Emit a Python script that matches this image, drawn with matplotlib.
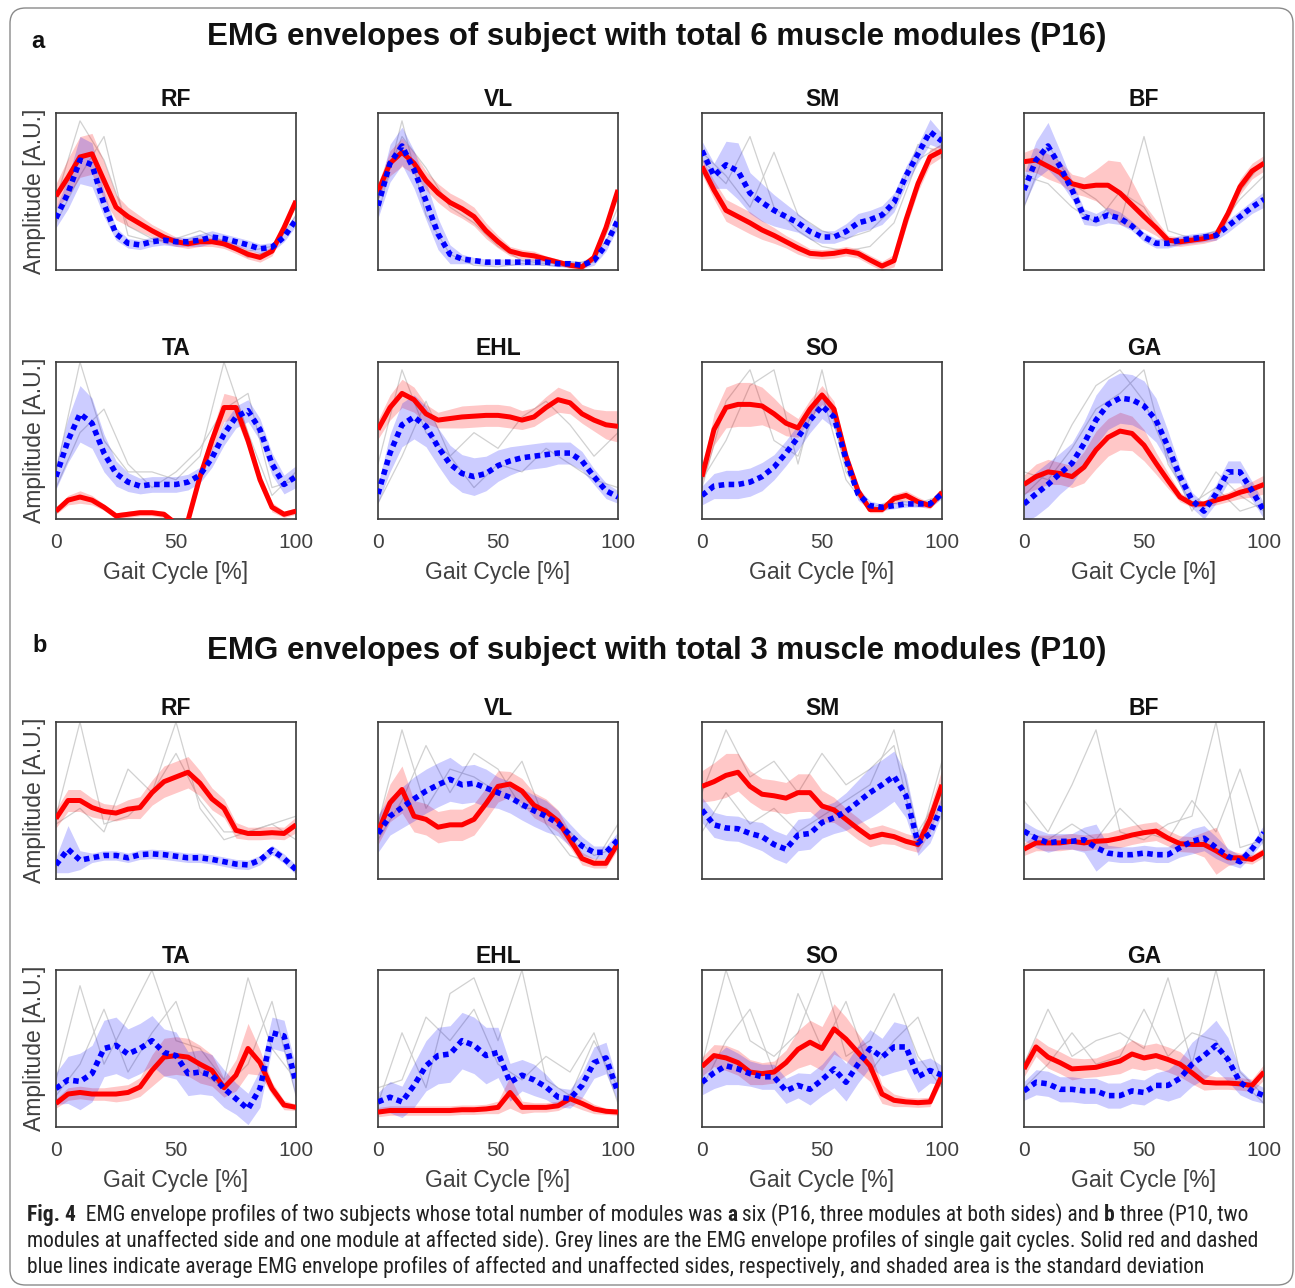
import matplotlib
matplotlib.use("Agg")
import matplotlib.pyplot as plt
from matplotlib import font_manager
from matplotlib.patches import FancyBboxPatch

# ---------------- DATA (normalised amplitude, 0 = box bottom, 1 = box top) ----------------
GAIT = [0, 5, 10, 15, 20, 25, 30, 35, 40, 45, 50, 55, 60, 65, 70, 75, 80, 85, 90, 95, 100]
GAIT_CYC = [0, 10, 20, 30, 40, 50, 60, 70, 80, 90, 100]
MUSCLES_ROW1 = ["RF", "VL", "SM", "BF"]
MUSCLES_ROW2 = ["TA", "EHL", "SO", "GA"]
SUBJECTS = ["P16", "P10"]
SUBJECT_TITLES = ["EMG envelopes of subject with total 6 muscle modules (P16)",
                  "EMG envelopes of subject with total 3 muscle modules (P10)"]
PANEL_LETTERS = ["a", "b"]
X_TICKS = [0, 50, 100]
XLABEL = "Gait Cycle [%]"
YLABEL = "Amplitude [A.U.]"

# ----- P16 -----
P16_RF_AFF = [0.47, 0.59, 0.72, 0.74, 0.57, 0.40, 0.34, 0.295, 0.25, 0.21, 0.18, 0.167, 0.18, 0.18, 0.167, 0.135, 0.10, 0.08, 0.12, 0.27, 0.44]
P16_RF_AFF_SD = [0.08, 0.12, 0.13, 0.13, 0.12, 0.08, 0.06, 0.05, 0.04, 0.04, 0.03, 0.03, 0.03, 0.03, 0.03, 0.03, 0.03, 0.03, 0.03, 0.03, 0.03]
P16_RF_UNAFF = [0.33, 0.49, 0.70, 0.67, 0.42, 0.23, 0.17, 0.16, 0.18, 0.19, 0.18, 0.18, 0.19, 0.21, 0.20, 0.18, 0.16, 0.135, 0.145, 0.21, 0.32]
P16_RF_UNAFF_SD = [0.06, 0.10, 0.15, 0.14, 0.08, 0.04, 0.03, 0.03, 0.03, 0.03, 0.03, 0.03, 0.04, 0.04, 0.03, 0.03, 0.03, 0.03, 0.03, 0.03, 0.04]
P16_RF_CYC1 = [0.45, 0.95, 0.70, 0.28, 0.20, 0.17, 0.22, 0.15, 0.12, 0.15, 0.40]
P16_RF_CYC2 = [0.30, 0.60, 0.85, 0.22, 0.18, 0.20, 0.25, 0.18, 0.08, 0.12, 0.35]

P16_VL_AFF = [0.50, 0.68, 0.75, 0.68, 0.57, 0.49, 0.43, 0.39, 0.34, 0.25, 0.18, 0.12, 0.10, 0.09, 0.07, 0.05, 0.03, 0.02, 0.08, 0.27, 0.51]
P16_VL_AFF_SD = [0.05, 0.08, 0.09, 0.07, 0.06, 0.06, 0.06, 0.06, 0.06, 0.05, 0.04, 0.03, 0.03, 0.03, 0.02, 0.02, 0.02, 0.02, 0.02, 0.02, 0.02]
P16_VL_UNAFF = [0.41, 0.68, 0.79, 0.64, 0.44, 0.23, 0.10, 0.07, 0.06, 0.05, 0.05, 0.05, 0.05, 0.05, 0.05, 0.04, 0.04, 0.03, 0.06, 0.16, 0.32]
P16_VL_UNAFF_SD = [0.08, 0.12, 0.12, 0.12, 0.12, 0.10, 0.06, 0.03, 0.02, 0.02, 0.02, 0.02, 0.02, 0.02, 0.02, 0.02, 0.02, 0.02, 0.03, 0.04, 0.05]
P16_VL_CYC1 = [0.45, 0.85, 0.65, 0.40, 0.30, 0.15, 0.06, 0.04, 0.05, 0.05, 0.40]
P16_VL_CYC2 = [0.35, 0.95, 0.35, 0.10, 0.03, 0.02, 0.04, 0.03, 0.02, 0.08, 0.30]

P16_SM_AFF = [0.66, 0.51, 0.38, 0.34, 0.30, 0.255, 0.22, 0.18, 0.14, 0.106, 0.10, 0.106, 0.12, 0.106, 0.064, 0.025, 0.06, 0.32, 0.55, 0.72, 0.76]
P16_SM_AFF_SD = [0.05, 0.06, 0.07, 0.07, 0.07, 0.06, 0.05, 0.04, 0.04, 0.03, 0.03, 0.03, 0.03, 0.03, 0.03, 0.03, 0.04, 0.05, 0.05, 0.05, 0.04]
P16_SM_UNAFF = [0.76, 0.60, 0.67, 0.63, 0.49, 0.43, 0.38, 0.34, 0.30, 0.245, 0.21, 0.21, 0.245, 0.30, 0.32, 0.35, 0.43, 0.60, 0.74, 0.88, 0.82]
P16_SM_UNAFF_SD = [0.06, 0.08, 0.15, 0.18, 0.13, 0.12, 0.10, 0.08, 0.06, 0.05, 0.04, 0.04, 0.05, 0.06, 0.06, 0.06, 0.06, 0.06, 0.06, 0.08, 0.05]
P16_SM_CYC1 = [0.70, 0.55, 0.85, 0.40, 0.25, 0.15, 0.12, 0.15, 0.30, 0.70, 0.80]
P16_SM_CYC2 = [0.75, 0.60, 0.40, 0.75, 0.35, 0.25, 0.20, 0.25, 0.40, 0.80, 0.75]

P16_BF_AFF = [0.69, 0.70, 0.66, 0.62, 0.55, 0.53, 0.54, 0.54, 0.49, 0.415, 0.34, 0.27, 0.19, 0.18, 0.19, 0.20, 0.22, 0.36, 0.53, 0.63, 0.68]
P16_BF_AFF_SD = [0.06, 0.08, 0.08, 0.07, 0.06, 0.06, 0.10, 0.16, 0.20, 0.15, 0.08, 0.05, 0.03, 0.03, 0.03, 0.03, 0.03, 0.04, 0.05, 0.05, 0.05]
P16_BF_UNAFF = [0.51, 0.70, 0.79, 0.66, 0.51, 0.34, 0.32, 0.35, 0.33, 0.28, 0.21, 0.17, 0.17, 0.19, 0.20, 0.21, 0.22, 0.28, 0.34, 0.40, 0.45]
P16_BF_UNAFF_SD = [0.10, 0.12, 0.15, 0.10, 0.06, 0.05, 0.04, 0.05, 0.04, 0.03, 0.03, 0.03, 0.03, 0.03, 0.03, 0.03, 0.03, 0.04, 0.04, 0.04, 0.05]
P16_BF_CYC1 = [0.40, 0.80, 0.55, 0.45, 0.30, 0.85, 0.25, 0.20, 0.25, 0.45, 0.60]
P16_BF_CYC2 = [0.60, 0.55, 0.40, 0.30, 0.50, 0.40, 0.15, 0.18, 0.22, 0.50, 0.70]

P16_TA_AFF = [0.05, 0.12, 0.14, 0.12, 0.075, 0.02, 0.03, 0.04, 0.04, 0.03, -0.03, -0.01, 0.27, 0.50, 0.71, 0.71, 0.50, 0.25, 0.075, 0.03, 0.05]
P16_TA_AFF_SD = [0.02, 0.03, 0.04, 0.03, 0.02, 0.02, 0.02, 0.02, 0.02, 0.02, 0.02, 0.02, 0.04, 0.06, 0.09, 0.07, 0.05, 0.04, 0.03, 0.02, 0.02]
P16_TA_UNAFF = [0.27, 0.50, 0.67, 0.61, 0.42, 0.29, 0.235, 0.21, 0.22, 0.22, 0.22, 0.235, 0.28, 0.39, 0.54, 0.65, 0.69, 0.57, 0.35, 0.22, 0.27]
P16_TA_UNAFF_SD = [0.08, 0.14, 0.18, 0.16, 0.12, 0.08, 0.06, 0.05, 0.05, 0.05, 0.05, 0.05, 0.05, 0.06, 0.07, 0.07, 0.07, 0.07, 0.07, 0.06, 0.07]
P16_TA_CYC1 = [0.30, 1.00, 0.50, 0.30, 0.30, 0.25, 0.40, 1.00, 0.55, 0.15, 0.30]
P16_TA_CYC2 = [0.20, 0.55, 0.70, 0.35, 0.20, 0.30, 0.45, 0.70, 0.80, 0.20, 0.25]

P16_EHL_AFF = [0.57, 0.71, 0.80, 0.76, 0.67, 0.63, 0.64, 0.65, 0.655, 0.66, 0.66, 0.65, 0.63, 0.65, 0.71, 0.76, 0.74, 0.67, 0.63, 0.60, 0.59]
P16_EHL_AFF_SD = [0.06, 0.08, 0.09, 0.08, 0.06, 0.05, 0.06, 0.07, 0.07, 0.07, 0.07, 0.07, 0.06, 0.06, 0.07, 0.08, 0.07, 0.06, 0.07, 0.09, 0.10]
P16_EHL_UNAFF = [0.16, 0.42, 0.60, 0.65, 0.59, 0.46, 0.35, 0.29, 0.27, 0.29, 0.34, 0.37, 0.39, 0.40, 0.41, 0.42, 0.42, 0.37, 0.27, 0.18, 0.14]
P16_EHL_UNAFF_SD = [0.06, 0.12, 0.14, 0.14, 0.13, 0.12, 0.12, 0.12, 0.12, 0.11, 0.10, 0.09, 0.08, 0.08, 0.08, 0.07, 0.07, 0.06, 0.05, 0.05, 0.04]
P16_EHL_CYC1 = [0.35, 0.95, 0.55, 0.40, 0.55, 0.45, 0.65, 0.75, 0.60, 0.40, 0.55]
P16_EHL_CYC2 = [0.10, 0.40, 0.75, 0.40, 0.20, 0.35, 0.30, 0.45, 0.35, 0.25, 0.20]

P16_SO_AFF = [0.27, 0.57, 0.71, 0.73, 0.73, 0.72, 0.67, 0.61, 0.58, 0.70, 0.79, 0.70, 0.40, 0.18, 0.06, 0.06, 0.13, 0.15, 0.11, 0.085, 0.17]
P16_SO_AFF_SD = [0.04, 0.10, 0.13, 0.14, 0.14, 0.12, 0.10, 0.08, 0.06, 0.06, 0.06, 0.05, 0.04, 0.03, 0.02, 0.02, 0.03, 0.03, 0.03, 0.02, 0.03]
P16_SO_UNAFF = [0.15, 0.21, 0.22, 0.22, 0.235, 0.27, 0.33, 0.42, 0.52, 0.63, 0.72, 0.65, 0.38, 0.16, 0.085, 0.075, 0.085, 0.096, 0.096, 0.096, 0.16]
P16_SO_UNAFF_SD = [0.06, 0.08, 0.09, 0.09, 0.09, 0.09, 0.08, 0.08, 0.08, 0.08, 0.08, 0.07, 0.06, 0.04, 0.03, 0.02, 0.02, 0.02, 0.02, 0.02, 0.03]
P16_SO_CYC1 = [0.20, 0.75, 0.95, 0.50, 0.40, 0.80, 0.25, 0.05, 0.10, 0.08, 0.15]
P16_SO_CYC2 = [0.25, 0.50, 0.85, 0.95, 0.35, 0.95, 0.30, 0.07, 0.12, 0.10, 0.15]

P16_GA_AFF = [0.22, 0.27, 0.30, 0.29, 0.27, 0.33, 0.44, 0.52, 0.56, 0.545, 0.47, 0.355, 0.245, 0.14, 0.096, 0.096, 0.12, 0.14, 0.17, 0.19, 0.22]
P16_GA_AFF_SD = [0.06, 0.08, 0.08, 0.07, 0.07, 0.10, 0.12, 0.12, 0.12, 0.11, 0.10, 0.07, 0.05, 0.03, 0.02, 0.02, 0.03, 0.03, 0.04, 0.05, 0.06]
P16_GA_UNAFF = [0.096, 0.16, 0.22, 0.29, 0.355, 0.48, 0.63, 0.73, 0.77, 0.76, 0.72, 0.63, 0.46, 0.27, 0.12, 0.05, 0.16, 0.30, 0.30, 0.18, 0.05]
P16_GA_UNAFF_SD = [0.12, 0.14, 0.14, 0.13, 0.13, 0.14, 0.16, 0.16, 0.16, 0.16, 0.16, 0.14, 0.10, 0.06, 0.05, 0.05, 0.06, 0.07, 0.07, 0.06, 0.05]
P16_GA_CYC1 = [0.15, 0.30, 0.60, 0.85, 0.95, 0.75, 0.40, 0.05, 0.30, 0.15, 0.05]
P16_GA_CYC2 = [0.30, 0.25, 0.45, 0.70, 0.80, 0.95, 0.35, 0.10, 0.20, 0.05, 0.10]

# ----- P10 -----
P10_RF_AFF = [0.385, 0.50, 0.50, 0.455, 0.43, 0.42, 0.445, 0.455, 0.55, 0.62, 0.65, 0.68, 0.61, 0.51, 0.45, 0.31, 0.29, 0.29, 0.295, 0.29, 0.345]
P10_RF_AFF_SD = [0.06, 0.07, 0.07, 0.06, 0.05, 0.05, 0.06, 0.07, 0.08, 0.10, 0.10, 0.10, 0.08, 0.07, 0.06, 0.05, 0.04, 0.04, 0.04, 0.04, 0.05]
P10_RF_UNAFF = [0.09, 0.19, 0.12, 0.135, 0.15, 0.15, 0.135, 0.155, 0.16, 0.155, 0.145, 0.135, 0.135, 0.125, 0.11, 0.095, 0.09, 0.12, 0.185, 0.13, 0.06]
P10_RF_UNAFF_SD = [0.05, 0.15, 0.06, 0.03, 0.03, 0.03, 0.03, 0.03, 0.03, 0.03, 0.03, 0.03, 0.03, 0.03, 0.03, 0.03, 0.03, 0.03, 0.03, 0.03, 0.03]
P10_RF_CYC1 = [0.40, 1.00, 0.35, 0.40, 0.55, 0.80, 0.50, 0.30, 0.30, 0.35, 0.40]
P10_RF_CYC2 = [0.35, 0.45, 0.30, 0.70, 0.55, 1.00, 0.45, 0.25, 0.30, 0.35, 0.25]

P10_VL_AFF = [0.30, 0.485, 0.57, 0.40, 0.38, 0.33, 0.345, 0.345, 0.38, 0.48, 0.59, 0.605, 0.56, 0.47, 0.43, 0.37, 0.25, 0.13, 0.10, 0.10, 0.23]
P10_VL_AFF_SD = [0.08, 0.12, 0.15, 0.10, 0.10, 0.10, 0.10, 0.10, 0.10, 0.10, 0.10, 0.08, 0.08, 0.08, 0.08, 0.07, 0.05, 0.04, 0.03, 0.03, 0.04]
P10_VL_UNAFF = [0.29, 0.40, 0.455, 0.51, 0.56, 0.60, 0.635, 0.60, 0.61, 0.58, 0.55, 0.52, 0.475, 0.435, 0.40, 0.355, 0.28, 0.21, 0.17, 0.17, 0.25]
P10_VL_UNAFF_SD = [0.12, 0.12, 0.13, 0.14, 0.14, 0.14, 0.14, 0.12, 0.12, 0.12, 0.10, 0.10, 0.10, 0.10, 0.10, 0.08, 0.07, 0.06, 0.04, 0.04, 0.05]
P10_VL_CYC1 = [0.35, 0.95, 0.45, 0.70, 0.65, 0.55, 0.75, 0.35, 0.15, 0.10, 0.35]
P10_VL_CYC2 = [0.25, 0.50, 0.85, 0.55, 0.80, 0.70, 0.45, 0.45, 0.30, 0.15, 0.20]

P10_SM_AFF = [0.59, 0.62, 0.66, 0.68, 0.59, 0.54, 0.53, 0.515, 0.55, 0.55, 0.465, 0.44, 0.38, 0.32, 0.265, 0.285, 0.27, 0.24, 0.22, 0.38, 0.60]
P10_SM_AFF_SD = [0.10, 0.12, 0.14, 0.12, 0.10, 0.10, 0.10, 0.10, 0.12, 0.12, 0.10, 0.08, 0.07, 0.07, 0.06, 0.06, 0.05, 0.05, 0.05, 0.08, 0.10]
P10_SM_UNAFF = [0.44, 0.345, 0.325, 0.32, 0.29, 0.27, 0.22, 0.19, 0.28, 0.29, 0.36, 0.39, 0.43, 0.49, 0.55, 0.60, 0.655, 0.53, 0.23, 0.29, 0.47]
P10_SM_UNAFF_SD = [0.08, 0.08, 0.08, 0.08, 0.08, 0.09, 0.09, 0.09, 0.10, 0.10, 0.10, 0.10, 0.12, 0.14, 0.16, 0.16, 0.16, 0.14, 0.08, 0.06, 0.06]
P10_SM_CYC1 = [0.55, 0.95, 0.65, 0.75, 0.55, 0.80, 0.60, 0.70, 0.85, 0.20, 0.75]
P10_SM_CYC2 = [0.30, 0.55, 0.35, 0.45, 0.30, 0.40, 0.50, 0.60, 0.95, 0.30, 0.55]

P10_BF_AFF = [0.19, 0.23, 0.23, 0.23, 0.24, 0.23, 0.24, 0.245, 0.26, 0.28, 0.295, 0.305, 0.26, 0.225, 0.22, 0.22, 0.18, 0.135, 0.135, 0.125, 0.17]
P10_BF_AFF_SD = [0.04, 0.05, 0.05, 0.05, 0.05, 0.05, 0.05, 0.05, 0.06, 0.06, 0.06, 0.06, 0.05, 0.05, 0.05, 0.08, 0.15, 0.05, 0.03, 0.03, 0.03]
P10_BF_UNAFF = [0.305, 0.26, 0.23, 0.24, 0.24, 0.25, 0.20, 0.165, 0.155, 0.155, 0.165, 0.155, 0.155, 0.20, 0.24, 0.26, 0.20, 0.145, 0.11, 0.19, 0.295]
P10_BF_UNAFF_SD = [0.06, 0.06, 0.06, 0.05, 0.05, 0.08, 0.15, 0.05, 0.05, 0.05, 0.05, 0.05, 0.05, 0.06, 0.08, 0.08, 0.07, 0.05, 0.04, 0.04, 0.05]
P10_BF_CYC1 = [0.50, 0.30, 0.60, 0.95, 0.30, 0.25, 0.35, 0.40, 1.00, 0.20, 0.25]
P10_BF_CYC2 = [0.30, 0.25, 0.35, 0.25, 0.45, 0.30, 0.25, 0.50, 0.30, 0.70, 0.20]

P10_TA_AFF = [0.15, 0.21, 0.22, 0.21, 0.21, 0.21, 0.22, 0.255, 0.36, 0.445, 0.455, 0.445, 0.40, 0.36, 0.25, 0.33, 0.50, 0.41, 0.245, 0.14, 0.125]
P10_TA_AFF_SD = [0.03, 0.04, 0.04, 0.04, 0.04, 0.05, 0.05, 0.06, 0.10, 0.12, 0.12, 0.12, 0.12, 0.10, 0.06, 0.10, 0.16, 0.08, 0.04, 0.03, 0.02]
P10_TA_UNAFF = [0.245, 0.30, 0.29, 0.34, 0.50, 0.52, 0.465, 0.50, 0.55, 0.475, 0.455, 0.34, 0.35, 0.33, 0.245, 0.18, 0.115, 0.245, 0.60, 0.58, 0.285]
P10_TA_UNAFF_SD = [0.10, 0.15, 0.18, 0.18, 0.18, 0.18, 0.16, 0.16, 0.16, 0.15, 0.15, 0.14, 0.14, 0.13, 0.12, 0.10, 0.10, 0.12, 0.10, 0.10, 0.10]
P10_TA_CYC1 = [0.30, 0.90, 0.40, 0.70, 1.00, 0.55, 0.50, 0.30, 0.95, 0.50, 0.30]
P10_TA_CYC2 = [0.20, 0.40, 0.75, 0.35, 0.60, 0.80, 0.35, 0.25, 0.40, 0.80, 0.20]

P10_EHL_AFF = [0.095, 0.105, 0.105, 0.105, 0.105, 0.105, 0.105, 0.11, 0.11, 0.115, 0.125, 0.22, 0.125, 0.125, 0.125, 0.135, 0.18, 0.15, 0.115, 0.10, 0.095]
P10_EHL_AFF_SD = [0.03, 0.03, 0.03, 0.03, 0.03, 0.03, 0.03, 0.03, 0.03, 0.03, 0.04, 0.10, 0.04, 0.03, 0.03, 0.03, 0.04, 0.04, 0.03, 0.02, 0.02]
P10_EHL_UNAFF = [0.16, 0.19, 0.16, 0.265, 0.39, 0.455, 0.465, 0.55, 0.52, 0.455, 0.475, 0.285, 0.33, 0.30, 0.255, 0.19, 0.18, 0.265, 0.41, 0.44, 0.22]
P10_EHL_UNAFF_SD = [0.06, 0.10, 0.10, 0.14, 0.16, 0.18, 0.18, 0.18, 0.18, 0.18, 0.16, 0.12, 0.10, 0.10, 0.08, 0.06, 0.06, 0.08, 0.10, 0.10, 0.06]
P10_EHL_CYC1 = [0.15, 0.60, 0.25, 0.85, 0.95, 0.55, 1.00, 0.30, 0.20, 0.55, 0.25]
P10_EHL_CYC2 = [0.25, 0.30, 0.70, 0.55, 0.75, 0.40, 0.30, 0.45, 0.35, 0.60, 0.15]

P10_SO_AFF = [0.385, 0.455, 0.44, 0.41, 0.35, 0.34, 0.35, 0.41, 0.495, 0.54, 0.50, 0.625, 0.56, 0.475, 0.39, 0.21, 0.17, 0.16, 0.155, 0.16, 0.33]
P10_SO_AFF_SD = [0.06, 0.07, 0.08, 0.08, 0.08, 0.07, 0.07, 0.08, 0.12, 0.14, 0.14, 0.16, 0.14, 0.12, 0.10, 0.06, 0.04, 0.03, 0.03, 0.03, 0.04]
P10_SO_UNAFF = [0.285, 0.345, 0.39, 0.37, 0.34, 0.32, 0.32, 0.23, 0.265, 0.24, 0.30, 0.37, 0.285, 0.40, 0.50, 0.445, 0.51, 0.51, 0.32, 0.36, 0.33]
P10_SO_UNAFF_SD = [0.08, 0.10, 0.12, 0.10, 0.08, 0.08, 0.08, 0.08, 0.08, 0.10, 0.10, 0.12, 0.12, 0.12, 0.12, 0.12, 0.16, 0.14, 0.10, 0.08, 0.06]
P10_SO_CYC1 = [0.40, 1.00, 0.55, 0.45, 0.60, 1.00, 0.45, 0.55, 0.85, 0.45, 0.25]
P10_SO_CYC2 = [0.25, 0.55, 0.75, 0.35, 0.85, 0.50, 0.80, 0.35, 0.55, 0.70, 0.30]

P10_GA_AFF = [0.37, 0.51, 0.445, 0.41, 0.37, 0.375, 0.38, 0.40, 0.42, 0.465, 0.44, 0.455, 0.43, 0.40, 0.345, 0.285, 0.28, 0.28, 0.275, 0.265, 0.35]
P10_GA_AFF_SD = [0.05, 0.06, 0.07, 0.07, 0.07, 0.06, 0.06, 0.07, 0.08, 0.09, 0.08, 0.08, 0.08, 0.08, 0.07, 0.05, 0.04, 0.04, 0.04, 0.04, 0.05]
P10_GA_UNAFF = [0.23, 0.285, 0.275, 0.24, 0.24, 0.23, 0.23, 0.20, 0.20, 0.23, 0.22, 0.265, 0.265, 0.31, 0.40, 0.455, 0.52, 0.43, 0.285, 0.23, 0.20]
P10_GA_UNAFF_SD = [0.06, 0.08, 0.08, 0.08, 0.08, 0.08, 0.08, 0.08, 0.08, 0.08, 0.08, 0.08, 0.10, 0.12, 0.14, 0.15, 0.16, 0.14, 0.08, 0.06, 0.05]
P10_GA_CYC1 = [0.40, 0.75, 0.45, 0.55, 0.60, 0.50, 0.95, 0.40, 1.00, 0.35, 0.20]
P10_GA_CYC2 = [0.25, 0.40, 0.60, 0.40, 0.45, 0.75, 0.45, 0.60, 0.55, 0.30, 0.15]

CAPTION_LINES = [
    [("Fig. 4", True), ("  EMG envelope profiles of two subjects whose total number of modules was ", False),
     ("a", True), (" six (P16, three modules at both sides) and ", False), ("b", True), (" three (P10, two", False)],
    [("modules at unaffected side and one module at affected side). Grey lines are the EMG envelope profiles of single gait cycles. Solid red and dashed", False)],
    [("blue lines indicate average EMG envelope profiles of affected and unaffected sides, respectively, and shaded area is the standard deviation", False)],
]

# ---------------- LAYOUT / STYLE ----------------
W, H = 1295, 1288
fig = plt.figure(figsize=(W / 100, H / 100), dpi=100)
fig.patch.set_facecolor("white")

avail = {f.name for f in font_manager.fontManager.ttflist}
SANS = "Liberation Sans" if "Liberation Sans" in avail else "DejaVu Sans"
CAP_FONT = SANS
for cand in ["Liberation Sans Narrow", "Roboto Condensed", "Open Sans Condensed", "Roboto"]:
    if cand in avail:
        CAP_FONT = cand
        break

COL_LEFT = [56, 378, 702, 1024]
ROW_TOP = [[113, 362], [722, 970]]
AX_W, AX_H = 240, 157
XLABEL_OFFSET = 54  # px below axes bottom
GREY_TXT = "#404040"
RED = "#ff0000"
BLUE = "#0000ff"


def fx(px):
    return px / W


def fy(py):
    return 1 - py / H


# rounded outer frame
frame = FancyBboxPatch((fx(10), fy(1285)), fx(1283), (1277) / H,
                       boxstyle="round,pad=0,rounding_size=0.012",
                       transform=fig.transFigure, facecolor="none",
                       edgecolor="#8a8a8a", linewidth=1.0)
fig.patches.append(frame)

SECTION_Y = [37, 651]
LETTER_POS = [(38, 42), (40, 646)]

for s_idx, subj in enumerate(SUBJECTS):
    fig.text(fx(657), fy(SECTION_Y[s_idx]), SUBJECT_TITLES[s_idx], ha="center", va="center",
             fontsize=22.5, fontweight="bold", family=SANS, color="#111111")
    lx, ly = LETTER_POS[s_idx]
    fig.text(fx(lx), fy(ly), PANEL_LETTERS[s_idx], ha="center", va="center",
             fontsize=17, fontweight="bold", family=SANS, color="#111111")
    for r_idx, muscles in enumerate([MUSCLES_ROW1, MUSCLES_ROW2]):
        top = ROW_TOP[s_idx][r_idx]
        for c_idx, m in enumerate(muscles):
            ax = fig.add_axes([fx(COL_LEFT[c_idx]), fy(top + AX_H), AX_W / W, AX_H / H])
            g = globals()
            aff = g[f"{subj}_{m}_AFF"]
            aff_sd = g[f"{subj}_{m}_AFF_SD"]
            un = g[f"{subj}_{m}_UNAFF"]
            un_sd = g[f"{subj}_{m}_UNAFF_SD"]
            for k in (1, 2):
                ax.plot(GAIT_CYC, g[f"{subj}_{m}_CYC{k}"], color="#c9c9c9", lw=0.9, alpha=0.85, zorder=1)
            ax.fill_between(GAIT, [a - s for a, s in zip(aff, aff_sd)], [a + s for a, s in zip(aff, aff_sd)],
                            color=RED, alpha=0.22, lw=0, zorder=2)
            ax.fill_between(GAIT, [a - s for a, s in zip(un, un_sd)], [a + s for a, s in zip(un, un_sd)],
                            color=BLUE, alpha=0.2, lw=0, zorder=2)
            ax.plot(GAIT, aff, color=RED, lw=3.6, solid_capstyle="butt", solid_joinstyle="round", zorder=3)
            ax.plot(GAIT, un, color=BLUE, lw=4.0, linestyle=(0, (1.0, 0.8)),
                    dash_capstyle="butt", zorder=4)
            ax.set_xlim(0, 100)
            ax.set_ylim(0, 1)
            ax.set_yticks([])
            ax.set_xticks(X_TICKS)
            ax.tick_params(axis="x", length=0, pad=10, labelsize=15, labelcolor=GREY_TXT)
            for sp in ax.spines.values():
                sp.set_color("#3a3a3a")
                sp.set_linewidth(1.2)
            ax.set_title(m, fontsize=16.5, fontweight="bold", family=SANS, pad=5, color="#111111")
            if r_idx == 1:
                for lab in ax.get_xticklabels():
                    lab.set_family(SANS)
                ax.set_xlabel(XLABEL, fontsize=16.5, color=GREY_TXT, family=SANS)
                ax.xaxis.set_label_coords(0.5, -XLABEL_OFFSET / AX_H)
                ax.xaxis.label.set_va("center")
            else:
                ax.set_xticklabels([])
            if c_idx == 0:
                ax.set_ylabel(YLABEL, fontsize=16.5, color=GREY_TXT, family=SANS)
                ax.yaxis.set_label_coords(-21 / AX_W, 0.5)
                ax.yaxis.label.set_va("center")

# caption with mixed weights, auto-fit to width
renderer = fig.canvas.get_renderer()


def line_width(segs, size):
    total = 0
    for s, b in segs:
        t = fig.text(0, 0, s, fontsize=size, fontweight="bold" if b else "normal", family=CAP_FONT)
        total += t.get_window_extent(renderer=renderer).width
        t.remove()
    return total


target = 1252 - 27
w10 = line_width(CAPTION_LINES[1], 10)
cap_size = 10 * target / w10
CAP_Y = [1215, 1241, 1267]
for segs, yy in zip(CAPTION_LINES, CAP_Y):
    x = 27
    for s, b in segs:
        t = fig.text(fx(x), fy(yy), s, fontsize=cap_size, fontweight="bold" if b else "normal",
                     family=CAP_FONT, va="center", ha="left", color="#222222")
        x += t.get_window_extent(renderer=renderer).width

fig.savefig("out.png", dpi=100, facecolor="white")
